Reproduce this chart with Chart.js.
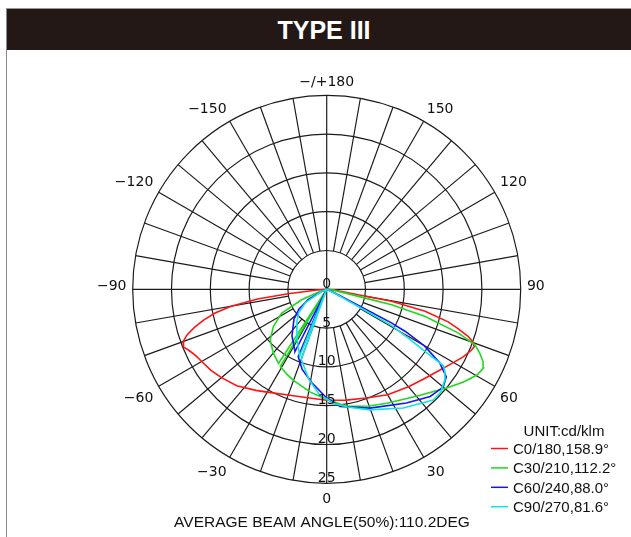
<!DOCTYPE html>
<html>
<head>
<meta charset="utf-8">
<script src="https://cdn.jsdelivr.net/npm/chart.js@4.4.1/dist/chart.umd.min.js"></script>
<style>
  body { margin: 0; background: #fff; width: 631px; height: 537px; overflow: hidden; position: relative; }
  #frame { position: absolute; left: 6px; top: 8px; width: 625px; height: 529px; border-left: 1px solid #8a8a8a; border-top: 1px solid #9a9a9a; }
  #canvas { position: absolute; left: 0; top: 0; }
  #header { position: absolute; left: 7px; top: 9px; width: 614px; height: 41px; padding-left: 10px; background: #231815; color: #fff;
            font: bold 25px "Liberation Sans", Arial, sans-serif; text-align: center; line-height: 42px; }
</style>
</head>
<body>
<div id="frame"></div>
<canvas id="canvas" width="631" height="537"></canvas>
<div id="header">TYPE III</div>
<script>
// gamma angles (0 = straight down, + = right side) and intensities in cd/klm
let redAngles = [-90, -85, -83.5, -82, -80, -78, -76, -74, -72, -70, -68, -66, -63, -60, -55, -50, -43, -35, -30, -20, -10, 0,
                 10, 20, 30, 40, 47, 53, 58, 63.5, 67, 68.7, 70, 71.6, 73.5, 75, 77.4, 79.5, 80.3, 84, 90];
let redValues = [0, 1.5, 5, 9, 12.5, 14.7, 16.3, 17.7, 18.9, 19.7, 19.9, 19.4, 18.9, 18.6, 18.2, 17.7, 17.0, 15.9, 15.3, 14.5, 14.2, 14.3,
                 14.5, 14.9, 15.7, 16.4, 17.0, 17.7, 18.5, 19.6, 20.2, 20.4, 20.1, 19.2, 17.5, 16.2, 13.0, 8.5, 4.1, 1.0, 0];

let greenAngles = [-90, -72, -67.4, -62, -55, -48, -40, -33, -32, -31, -25, -20, -9.3, 0,
                   9.7, 20, 27.8, 35, 41.4, 46, 50.5, 55.9, 60.3, 63.2, 65.2, 67.5, 69.5, 71.6, 74.6, 76.7, 77.5, 82, 90];
let greenValues = [0, 1.0, 3.5, 6.6, 8.4, 9.8, 10.7, 11.4, 0, 11.6, 12.1, 12.5, 13.4, 14.2,
                   15.3, 16.0, 16.6, 17.3, 18.2, 19.0, 20.0, 21.3, 22.3, 22.6, 22.2, 21.3, 20.4, 17.9, 13.1, 8.6, 4.2, 1.0, 0];

let blueAngles = [-90, -68, -61, -54.5, -47.7, -36.6, -28, -27, -25, -23, -22, -17, -9, 0,
                  6.5, 20, 35, 44, 50, 53.8, 56.9, 59.9, 61.8, 62.6, 63, 66, 90];
let blueValues = [0, 0.6, 2.7, 4.4, 5.7, 7.5, 8.8, 9.0, 0, 9.4, 9.6, 10.8, 12.2, 14.0,
                  15.2, 16.3, 17.9, 19.2, 19.6, 19.1, 17.4, 14.6, 11.5, 9.4, 4.6, 1.0, 0];

let cyanAngles = [-90, -66, -58, -50.2, -41.7, -30.7, -22, -21, -20, -11.3, -3.4, 0,
                  3.3, 10, 19.7, 32.8, 43.9, 48, 52.3, 55, 56.8, 57.5, 59, 60.8, 61.5, 64, 90];
let cyanValues = [0, 0.8, 3.2, 4.7, 5.8, 7.5, 9.3, 0, 9.6, 11.8, 13.8, 14.1,
                  14.7, 15.4, 16.5, 18.2, 19.8, 19.8, 19.2, 18.6, 18.0, 15.5, 12.5, 9.6, 4.5, 1.0, 0];

let seriesLabels = ['C0/180,158.9°', 'C30/210,112.2°', 'C60/240,88.0°', 'C90/270,81.6°'];
let seriesColors = ['rgb(255,20,20)', 'rgb(30,215,30)', 'rgb(20,20,245)', 'rgb(20,225,225)'];

let ringValues = [0, 5, 10, 15, 20, 25];
let angleTicks = [180, 150, 120, 90, 60, 30, 0, -30, -60, -90, -120, -150];
let angleTickLabels = ['\u2212/+180', '150', '120', '90', '60', '30', '0', '\u221230', '\u221260', '\u221290', '\u2212120', '\u2212150'];

let legendTitle = 'UNIT:cd/klm';
let footerText = 'AVERAGE BEAM ANGLE(50%):110.2DEG';

function toXY(angles, values) {
  let pts = [];
  for (let i = 0; i < angles.length; i++) {
    let g = angles[i] * Math.PI / 180;
    pts.push({ x: values[i] * Math.sin(g), y: -values[i] * Math.cos(g) });
  }
  return pts;
}

function makeSet(i, angles, values, order) {
  return {
    label: seriesLabels[i],
    data: toXY(angles, values),
    showLine: true,
    borderColor: seriesColors[i],
    backgroundColor: seriesColors[i],
    borderWidth: 1.6,
    pointRadius: 0,
    tension: 0,
    order: order
  };
}

// pixel position of gamma angle g at radius r (in cd/klm)
function polarPx(chart, g, r) {
  let a = g * Math.PI / 180;
  return [chart.scales.x.getPixelForValue(r * Math.sin(a)), chart.scales.y.getPixelForValue(-r * Math.cos(a))];
}

let polarGrid = {
  id: 'polarGrid',
  beforeDatasetsDraw(chart) {
    let ctx = chart.ctx;
    let c = polarPx(chart, 0, 0);
    let unit = chart.scales.x.getPixelForValue(1) - c[0];
    let maxR = ringValues[ringValues.length - 1];
    ctx.save();
    ctx.strokeStyle = '#1c1c1c';
    ctx.lineWidth = 1.2;
    for (let i = 1; i < ringValues.length; i++) {
      ctx.beginPath();
      ctx.arc(c[0], c[1], ringValues[i] * unit, 0, Math.PI * 2);
      ctx.stroke();
    }
    for (let g = 0; g < 360; g += 10) {
      let r0 = (g % 90 === 0) ? 0 : ringValues[1];
      let p0 = polarPx(chart, g, r0);
      let p1 = polarPx(chart, g, maxR);
      ctx.beginPath();
      ctx.moveTo(p0[0], p0[1]);
      ctx.lineTo(p1[0], p1[1]);
      ctx.stroke();
    }
    ctx.restore();
  },
  afterDatasetsDraw(chart) {
    let ctx = chart.ctx;
    ctx.save();
    ctx.fillStyle = '#111';
    ctx.font = '14px "DejaVu Sans", sans-serif';
    ctx.textAlign = 'center';

    // ring values along the downward axis
    ctx.textBaseline = 'alphabetic';
    for (let i = 0; i < ringValues.length; i++) {
      let p = polarPx(chart, 0, ringValues[i]);
      ctx.fillText(String(ringValues[i]), p[0], p[1] - 1.5);
    }

    // angle labels round the outside, anchored on the side facing the circle
    for (let i = 0; i < angleTicks.length; i++) {
      let g = angleTicks[i];
      let p = polarPx(chart, g, 25.8);
      if (g === 0 || g === 180) ctx.textAlign = 'center';
      else if (g > 0) ctx.textAlign = 'left';
      else ctx.textAlign = 'right';
      let y = p[1];
      if (Math.abs(g) > 90) y = p[1] - 3;
      else if (Math.abs(g) < 90) y = p[1] + 13;
      else y = p[1] + 1;
      ctx.fillText(angleTickLabels[i], p[0], y);
    }

    // legend
    ctx.font = '15px "Liberation Sans", Arial, sans-serif';
    ctx.textAlign = 'center';
    ctx.fillText(legendTitle, 564, 436);
    ctx.textAlign = 'left';
    let sets = chart.data.datasets;
    for (let i = 0; i < sets.length; i++) {
      let y = 448.5 + i * 19.4;
      ctx.strokeStyle = sets[i].borderColor;
      ctx.lineWidth = 1.5;
      ctx.beginPath();
      ctx.moveTo(491, y);
      ctx.lineTo(508, y);
      ctx.stroke();
      ctx.fillText(sets[i].label, 513, y + 5.5);
    }

    // footer
    ctx.textAlign = 'center';
    ctx.font = '15.5px "Liberation Sans", Arial, sans-serif';
    ctx.fillText(footerText, 322, 527);
    ctx.restore();
  }
};

let configuracao = {
  type: 'scatter',
  data: {
    datasets: [
      makeSet(0, redAngles, redValues, 4),
      makeSet(1, greenAngles, greenValues, 3),
      makeSet(2, blueAngles, blueValues, 2),
      makeSet(3, cyanAngles, cyanValues, 1)
    ]
  },
  options: {
    responsive: false,
    animation: false,
    events: [],
    layout: {
      padding: { left: 132.7, right: 110.3, top: 95.3, bottom: 53.7 }
    },
    scales: {
      x: { type: 'linear', min: -25, max: 25, display: false },
      y: { type: 'linear', min: -25, max: 25, display: false }
    },
    plugins: {
      legend: { display: false },
      tooltip: { enabled: false }
    }
  },
  plugins: [polarGrid]
};

let chart = new Chart(document.getElementById('canvas'), configuracao);
</script>
</body>
</html>
